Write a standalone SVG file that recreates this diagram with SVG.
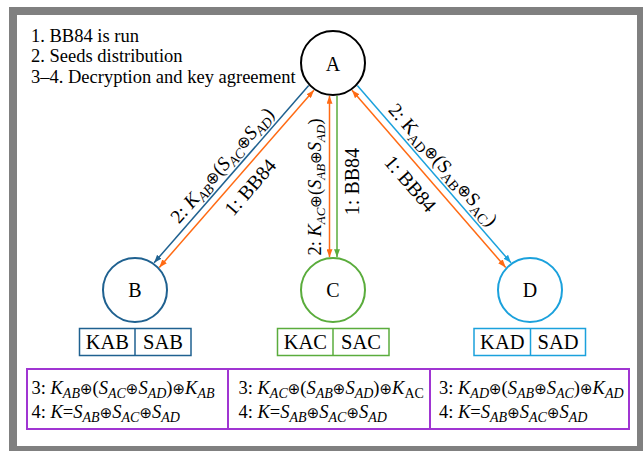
<svg xmlns="http://www.w3.org/2000/svg" width="643" height="451" viewBox="0 0 643 451">
<style>
.t{font-family:"Liberation Serif","Times New Roman",serif;fill:#000}
.i{font-style:italic}
.op{font-family:"DejaVu Sans",sans-serif;font-style:normal}
.node{fill:#fff;stroke-width:2}
.ln{fill:none;stroke-width:1.5}
.box{fill:#fff;stroke-width:1.5}
.tb{font-size:18.5px}
.tb .s{font-size:14px}
.tb .op{font-size:15px}
</style>
<defs>
<marker id="mo" markerUnits="userSpaceOnUse" markerWidth="8" markerHeight="6" refX="8" refY="3" orient="auto-start-reverse"><path d="M0,0 L8,3 L0,6 Z" fill="#ff6a13"/></marker>
<marker id="mb" markerUnits="userSpaceOnUse" markerWidth="8" markerHeight="6" refX="8" refY="3" orient="auto-start-reverse"><path d="M0,0 L8,3 L0,6 Z" fill="#1f6190"/></marker>
<marker id="mg" markerUnits="userSpaceOnUse" markerWidth="8" markerHeight="6" refX="8" refY="3" orient="auto-start-reverse"><path d="M0,0 L8,3 L0,6 Z" fill="#5aac3c"/></marker>
<marker id="ml" markerUnits="userSpaceOnUse" markerWidth="8" markerHeight="6" refX="8" refY="3" orient="auto-start-reverse"><path d="M0,0 L8,3 L0,6 Z" fill="#1ba1dc"/></marker>
</defs>
<rect x="0" y="0" width="643" height="451" fill="#fff"/>
<rect x="13" y="11" width="628" height="439" fill="none" stroke="#808080" stroke-width="8"/>

<g id="legend" class="t" font-size="18.5">
<text x="31" y="41.5">1. BB84 is run</text>
<text x="31" y="62">2. Seeds distribution</text>
<text x="31" y="82.5">3–4. Decryption and key agreement</text>
</g>

<g id="connectors">
<line class="ln" x1="308.7" y1="85.6" x2="154.1" y2="262.8" stroke="#1f6190" marker-end="url(#mb)"/>
<line class="ln" x1="313.9" y1="90.2" x2="159.3" y2="267.4" stroke="#ff6a13" marker-start="url(#mo)" marker-end="url(#mo)"/>
<line class="ln" x1="329.5" y1="95.8" x2="329.5" y2="257.2" stroke="#ff6a13" marker-start="url(#mo)" marker-end="url(#mo)"/>
<line class="ln" x1="337" y1="95.8" x2="337" y2="257.2" stroke="#5aac3c" marker-end="url(#mg)"/>
<line class="ln" x1="357.3" y1="85.6" x2="511" y2="262.8" stroke="#1ba1dc" marker-end="url(#ml)"/>
<line class="ln" x1="352" y1="90.2" x2="505.7" y2="267.4" stroke="#ff6a13" marker-start="url(#mo)" marker-end="url(#mo)"/>
<text class="t" font-size="19.5" text-anchor="middle" transform="translate(226.9,169.5) rotate(-48.9)">2: <tspan class="i">K</tspan><tspan class="i" font-size="14" dy="4">AB</tspan><tspan class="op" font-size="16" dy="-4">⊕</tspan>(<tspan class="i">S</tspan><tspan class="i" font-size="14" dy="4">AC</tspan><tspan class="op" font-size="16" dy="-4">⊕</tspan><tspan class="i">S</tspan><tspan class="i" font-size="14" dy="4">AD</tspan><tspan dy="-4">)</tspan></text>
<text class="t" font-size="20" text-anchor="middle" transform="translate(255.3,191.6) rotate(-48.9)">1: BB84</text>
<text class="t" font-size="18.5" text-anchor="middle" transform="translate(321,187) rotate(-90)">2: <tspan class="i">K</tspan><tspan class="i" font-size="13" dy="4">AC</tspan><tspan class="op" font-size="15" dy="-4">⊕</tspan>(<tspan class="i">S</tspan><tspan class="i" font-size="13" dy="4">AB</tspan><tspan class="op" font-size="15" dy="-4">⊕</tspan><tspan class="i">S</tspan><tspan class="i" font-size="13" dy="4">AD</tspan><tspan dy="-4">)</tspan></text>
<text class="t" font-size="20" text-anchor="middle" transform="translate(359,181.5) rotate(-90)">1: BB84</text>
<text class="t" font-size="19.5" text-anchor="middle" transform="translate(438.2,168.9) rotate(49)">2: K<tspan font-size="14" dy="4">AD</tspan><tspan class="op" font-size="16" dy="-4">⊕</tspan>(S<tspan font-size="14" dy="4">AB</tspan><tspan class="op" font-size="16" dy="-4">⊕</tspan>S<tspan font-size="14" dy="4">AC</tspan><tspan dy="-4">)</tspan></text>
<text class="t" font-size="20" text-anchor="middle" transform="translate(405.3,188.2) rotate(49)">1: BB84</text>
</g>

<g id="A"><circle class="node" cx="333" cy="63" r="32" stroke="#000"/><text class="t" x="333" y="71" font-size="20" text-anchor="middle">A</text></g>
<g id="B"><circle class="node" cx="135" cy="290" r="32" stroke="#1f6190"/><text class="t" x="135" y="297" font-size="20" text-anchor="middle">B</text></g>
<g id="C"><circle class="node" cx="333" cy="290" r="32" stroke="#5aac3c"/><text class="t" x="333" y="297" font-size="20" text-anchor="middle">C</text></g>
<g id="D"><circle class="node" cx="530" cy="290" r="32" stroke="#1ba1dc"/><text class="t" x="530" y="297" font-size="20" text-anchor="middle">D</text></g>

<g id="keysB"><rect class="box" x="79.5" y="328.5" width="111.5" height="27" stroke="#1f6190"/><line x1="135" y1="328.5" x2="135" y2="355.5" stroke="#1f6190" stroke-width="1.5"/><text class="t" x="107.3" y="349" font-size="20.5" text-anchor="middle">KAB</text><text class="t" x="163" y="349" font-size="20.5" text-anchor="middle">SAB</text></g>
<g id="keysC"><rect class="box" x="277.5" y="328.5" width="111.5" height="27" stroke="#5aac3c"/><line x1="333" y1="328.5" x2="333" y2="355.5" stroke="#5aac3c" stroke-width="1.5"/><text class="t" x="305.3" y="349" font-size="20.5" text-anchor="middle">KAC</text><text class="t" x="361" y="349" font-size="20.5" text-anchor="middle">SAC</text></g>
<g id="keysD"><rect class="box" x="474" y="328.5" width="111.5" height="27" stroke="#1ba1dc"/><line x1="530.5" y1="328.5" x2="530.5" y2="355.5" stroke="#1ba1dc" stroke-width="1.5"/><text class="t" x="502.3" y="349" font-size="20.5" text-anchor="middle">KAD</text><text class="t" x="558" y="349" font-size="20.5" text-anchor="middle">SAD</text></g>

<g id="table">
<rect x="27" y="369" width="602" height="60" fill="none" stroke="#a035d2" stroke-width="2"/>
<line x1="228" y1="369" x2="228" y2="429" stroke="#a035d2" stroke-width="2"/>
<line x1="430" y1="369" x2="430" y2="429" stroke="#a035d2" stroke-width="2"/>
<g class="t tb">
<text x="31.5" y="394">3: <tspan class="i">K</tspan><tspan class="i s" dy="4">AB</tspan><tspan class="op" dy="-4">⊕</tspan>(<tspan class="i">S</tspan><tspan class="i s" dy="4">AC</tspan><tspan class="op" dy="-4">⊕</tspan><tspan class="i">S</tspan><tspan class="i s" dy="4">AD</tspan><tspan dy="-4">)</tspan><tspan class="op">⊕</tspan><tspan class="i">K</tspan><tspan class="i s" dy="4">AB</tspan></text>
<text x="31.5" y="418">4: <tspan class="i">K</tspan>=<tspan class="i">S</tspan><tspan class="i s" dy="4">AB</tspan><tspan class="op" dy="-4">⊕</tspan><tspan class="i">S</tspan><tspan class="i s" dy="4">AC</tspan><tspan class="op" dy="-4">⊕</tspan><tspan class="i">S</tspan><tspan class="i s" dy="4">AD</tspan></text>
<text x="238.5" y="394">3: <tspan class="i">K</tspan><tspan class="i s" dy="4">AC</tspan><tspan class="op" dy="-4">⊕</tspan>(<tspan class="i">S</tspan><tspan class="i s" dy="4">AB</tspan><tspan class="op" dy="-4">⊕</tspan><tspan class="i">S</tspan><tspan class="i s" dy="4">AD</tspan><tspan dy="-4">)</tspan><tspan class="op">⊕</tspan><tspan class="i">K</tspan><tspan class="s" dy="4">AC</tspan></text>
<text x="238.5" y="418">4: <tspan class="i">K</tspan>=<tspan class="i">S</tspan><tspan class="i s" dy="4">AB</tspan><tspan class="op" dy="-4">⊕</tspan><tspan class="i">S</tspan><tspan class="i s" dy="4">AC</tspan><tspan class="op" dy="-4">⊕</tspan><tspan class="i">S</tspan><tspan class="i s" dy="4">AD</tspan></text>
<text x="439" y="394">3: <tspan class="i">K</tspan><tspan class="i s" dy="4">AD</tspan><tspan class="op" dy="-4">⊕</tspan>(<tspan class="i">S</tspan><tspan class="i s" dy="4">AB</tspan><tspan class="op" dy="-4">⊕</tspan><tspan class="i">S</tspan><tspan class="i s" dy="4">AC</tspan><tspan dy="-4">)</tspan><tspan class="op">⊕</tspan><tspan class="i">K</tspan><tspan class="i s" dy="4">AD</tspan></text>
<text x="439" y="418">4: <tspan class="i">K</tspan>=<tspan class="i">S</tspan><tspan class="i s" dy="4">AB</tspan><tspan class="op" dy="-4">⊕</tspan><tspan class="i">S</tspan><tspan class="i s" dy="4">AC</tspan><tspan class="op" dy="-4">⊕</tspan><tspan class="i">S</tspan><tspan class="i s" dy="4">AD</tspan></text>
</g>
</g>
</svg>
